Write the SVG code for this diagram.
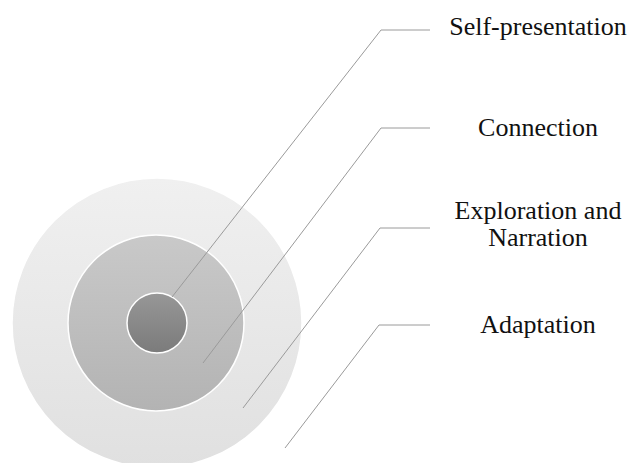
<svg xmlns="http://www.w3.org/2000/svg" width="629" height="463" viewBox="0 0 629 463">
<defs>
<linearGradient id="gOuter" x1="0" y1="0" x2="0" y2="1">
<stop offset="0" stop-color="#f0f0f0"/><stop offset="1" stop-color="#e0e0e0"/>
</linearGradient>
<linearGradient id="gMid" x1="0" y1="0" x2="0" y2="1">
<stop offset="0" stop-color="#c9c9c9"/><stop offset="1" stop-color="#b3b3b3"/>
</linearGradient>
<linearGradient id="gIn" x1="0" y1="0" x2="0" y2="1">
<stop offset="0" stop-color="#979797"/><stop offset="1" stop-color="#7b7b7b"/>
</linearGradient>
</defs>
<style>
.ring{stroke:#ffffff;stroke-width:1.5}
.conn{fill:none;stroke:#9a9a9a;stroke-width:1}
.lbl{font-family:"Liberation Serif","Times New Roman",serif;font-size:26px;fill:#111;text-anchor:middle}
</style>
<rect width="629" height="463" fill="#ffffff"/>
<g id="outer"><circle class="ring" cx="157" cy="323" r="145" fill="url(#gOuter)"/></g>
<g id="middle"><circle class="ring" cx="156" cy="323" r="88" fill="url(#gMid)"/></g>
<g id="inner"><circle class="ring" cx="157" cy="323" r="30" fill="url(#gIn)"/></g>
<g id="connectors">
<polyline class="conn" points="172,297 381,30 430,30"/>
<polyline class="conn" points="203,363 381,128 430,128"/>
<polyline class="conn" points="243,408 380,228 430,228"/>
<polyline class="conn" points="285,448 379,325 430,325"/>
</g>
<g id="label-self"><text class="lbl" x="538" y="35">Self-presentation</text></g>
<g id="label-connection"><text class="lbl" x="538" y="136">Connection</text></g>
<g id="label-exploration"><text class="lbl" x="538" y="219">Exploration and</text><text class="lbl" x="538" y="246">Narration</text></g>
<g id="label-adaptation"><text class="lbl" x="538" y="333">Adaptation</text></g>
</svg>
